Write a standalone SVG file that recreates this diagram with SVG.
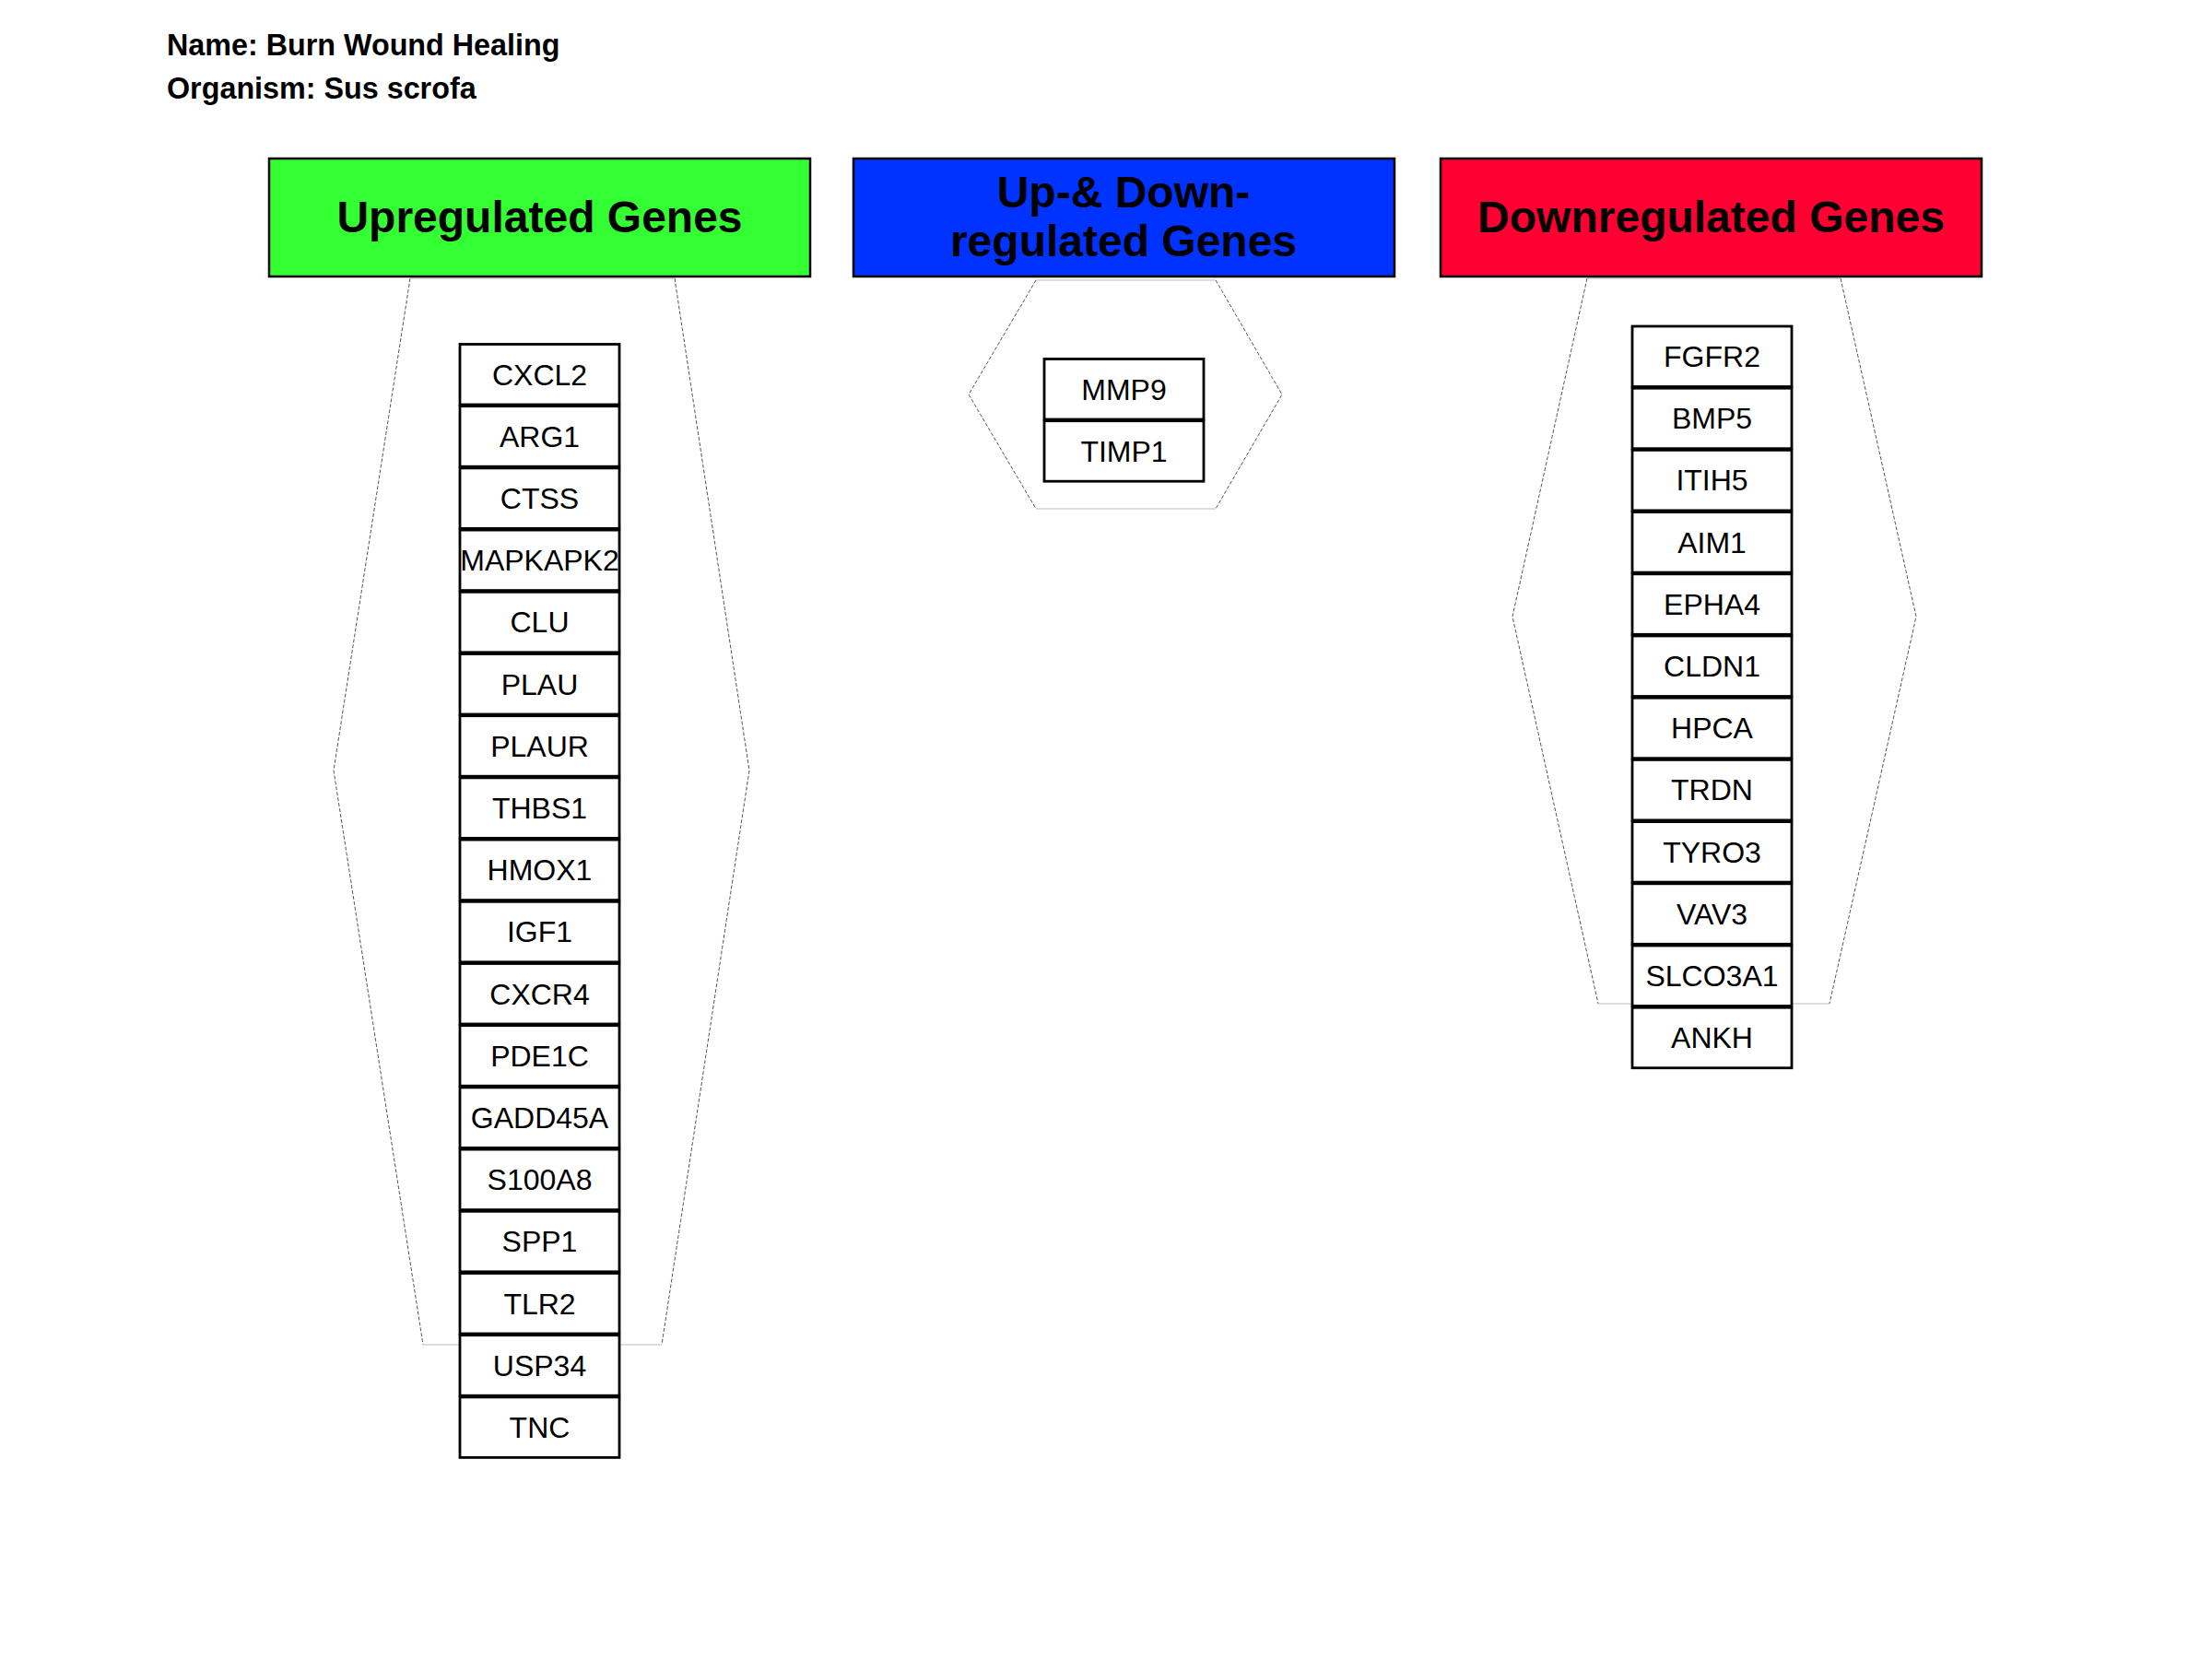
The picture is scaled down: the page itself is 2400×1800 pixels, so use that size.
<svg xmlns="http://www.w3.org/2000/svg" width="2400" height="1800" viewBox="0 0 2400 1800">
<style>
.title{font-family:"Liberation Sans",Arial,sans-serif;font-weight:bold;font-size:32.3px;fill:#000}
.hdr{stroke:#000;stroke-width:2.5}
.hdrt{font-family:"Liberation Sans",Arial,sans-serif;font-weight:bold;font-size:48px;fill:#000;text-anchor:middle}
.gene rect{fill:#fff;stroke:#000;stroke-width:2.8}
.gene text{font-family:"Liberation Sans",Arial,sans-serif;font-size:32px;fill:#000;text-anchor:middle}
.hexside{fill:none;stroke:#555;stroke-width:1;stroke-dasharray:4 2}
.hexflat{fill:none;stroke:#bbb;stroke-width:1.2}
</style>
<rect width="2400" height="1800" fill="#fff"/>
<g id="title">
<text class="title" x="181" y="60">Name: Burn Wound Healing</text>
<text class="title" x="181" y="107">Organism: Sus scrofa</text>
</g>
<g id="hex-up">
<path class="hexside" d="M445,302 L362,836 L459,1459 M732,302 L813,836 L718,1459"/>
<path class="hexflat" d="M445,302 L732,302 M459,1459 L718,1459"/>
</g>
<g id="hex-both">
<path class="hexside" d="M1124,304 L1051,428 L1124,552 M1319,304 L1391,428 L1319,552"/>
<path class="hexflat" d="M1124,304 L1319,304 M1124,552 L1319,552"/>
</g>
<g id="hex-down">
<path class="hexside" d="M1722,302 L1641,669 L1734,1089 M1997,302 L2079,669 L1985,1089"/>
<path class="hexflat" d="M1722,302 L1997,302 M1734,1089 L1985,1089"/>
</g>
<g id="hdr-up"><rect class="hdr" x="292" y="172" width="587" height="128" fill="#33FF33"/><text class="hdrt" x="585.5" y="252">Upregulated Genes</text></g>
<g id="hdr-both"><rect class="hdr" x="926" y="172" width="587" height="128" fill="#0033FF"/><text class="hdrt" x="1219" y="225">Up-&amp; Down-</text><text class="hdrt" x="1219" y="278">regulated Genes</text></g>
<g id="hdr-down"><rect class="hdr" x="1563" y="172" width="587" height="128" fill="#FF0033"/><text class="hdrt" x="1856.5" y="252">Downregulated Genes</text></g>
<g id="up-genes">
<g id="CXCL2" class="gene"><rect x="499" y="373.5" width="173" height="65.5"/><text x="585.5" y="417.5">CXCL2</text></g>
<g id="ARG1" class="gene"><rect x="499" y="440.7" width="173" height="65.5"/><text x="585.5" y="484.7">ARG1</text></g>
<g id="CTSS" class="gene"><rect x="499" y="507.9" width="173" height="65.5"/><text x="585.5" y="551.9">CTSS</text></g>
<g id="MAPKAPK2" class="gene"><rect x="499" y="575.1" width="173" height="65.5"/><text x="585.5" y="619.1">MAPKAPK2</text></g>
<g id="CLU" class="gene"><rect x="499" y="642.3" width="173" height="65.5"/><text x="585.5" y="686.3">CLU</text></g>
<g id="PLAU" class="gene"><rect x="499" y="709.5" width="173" height="65.5"/><text x="585.5" y="753.5">PLAU</text></g>
<g id="PLAUR" class="gene"><rect x="499" y="776.7" width="173" height="65.5"/><text x="585.5" y="820.7">PLAUR</text></g>
<g id="THBS1" class="gene"><rect x="499" y="843.9" width="173" height="65.5"/><text x="585.5" y="887.9">THBS1</text></g>
<g id="HMOX1" class="gene"><rect x="499" y="911.1" width="173" height="65.5"/><text x="585.5" y="955.1">HMOX1</text></g>
<g id="IGF1" class="gene"><rect x="499" y="978.3" width="173" height="65.5"/><text x="585.5" y="1022.3">IGF1</text></g>
<g id="CXCR4" class="gene"><rect x="499" y="1045.5" width="173" height="65.5"/><text x="585.5" y="1089.5">CXCR4</text></g>
<g id="PDE1C" class="gene"><rect x="499" y="1112.7" width="173" height="65.5"/><text x="585.5" y="1156.7">PDE1C</text></g>
<g id="GADD45A" class="gene"><rect x="499" y="1179.9" width="173" height="65.5"/><text x="585.5" y="1223.9">GADD45A</text></g>
<g id="S100A8" class="gene"><rect x="499" y="1247.1" width="173" height="65.5"/><text x="585.5" y="1291.1">S100A8</text></g>
<g id="SPP1" class="gene"><rect x="499" y="1314.3" width="173" height="65.5"/><text x="585.5" y="1358.3">SPP1</text></g>
<g id="TLR2" class="gene"><rect x="499" y="1381.5" width="173" height="65.5"/><text x="585.5" y="1425.5">TLR2</text></g>
<g id="USP34" class="gene"><rect x="499" y="1448.7" width="173" height="65.5"/><text x="585.5" y="1492.7">USP34</text></g>
<g id="TNC" class="gene"><rect x="499" y="1515.9" width="173" height="65.5"/><text x="585.5" y="1559.9">TNC</text></g>
</g>
<g id="both-genes">
<g id="MMP9" class="gene"><rect x="1133" y="389.5" width="173" height="65.5"/><text x="1219.5" y="433.5">MMP9</text></g>
<g id="TIMP1" class="gene"><rect x="1133" y="456.7" width="173" height="65.5"/><text x="1219.5" y="500.7">TIMP1</text></g>
</g>
<g id="down-genes">
<g id="FGFR2" class="gene"><rect x="1771" y="354" width="173" height="65.5"/><text x="1857.5" y="398">FGFR2</text></g>
<g id="BMP5" class="gene"><rect x="1771" y="421.2" width="173" height="65.5"/><text x="1857.5" y="465.2">BMP5</text></g>
<g id="ITIH5" class="gene"><rect x="1771" y="488.4" width="173" height="65.5"/><text x="1857.5" y="532.4">ITIH5</text></g>
<g id="AIM1" class="gene"><rect x="1771" y="555.6" width="173" height="65.5"/><text x="1857.5" y="599.6">AIM1</text></g>
<g id="EPHA4" class="gene"><rect x="1771" y="622.8" width="173" height="65.5"/><text x="1857.5" y="666.8">EPHA4</text></g>
<g id="CLDN1" class="gene"><rect x="1771" y="690" width="173" height="65.5"/><text x="1857.5" y="734">CLDN1</text></g>
<g id="HPCA" class="gene"><rect x="1771" y="757.2" width="173" height="65.5"/><text x="1857.5" y="801.2">HPCA</text></g>
<g id="TRDN" class="gene"><rect x="1771" y="824.4" width="173" height="65.5"/><text x="1857.5" y="868.4">TRDN</text></g>
<g id="TYRO3" class="gene"><rect x="1771" y="891.6" width="173" height="65.5"/><text x="1857.5" y="935.6">TYRO3</text></g>
<g id="VAV3" class="gene"><rect x="1771" y="958.8" width="173" height="65.5"/><text x="1857.5" y="1002.8">VAV3</text></g>
<g id="SLCO3A1" class="gene"><rect x="1771" y="1026" width="173" height="65.5"/><text x="1857.5" y="1070">SLCO3A1</text></g>
<g id="ANKH" class="gene"><rect x="1771" y="1093.2" width="173" height="65.5"/><text x="1857.5" y="1137.2">ANKH</text></g>
</g>
<g id="connectors"></g>
</svg>
